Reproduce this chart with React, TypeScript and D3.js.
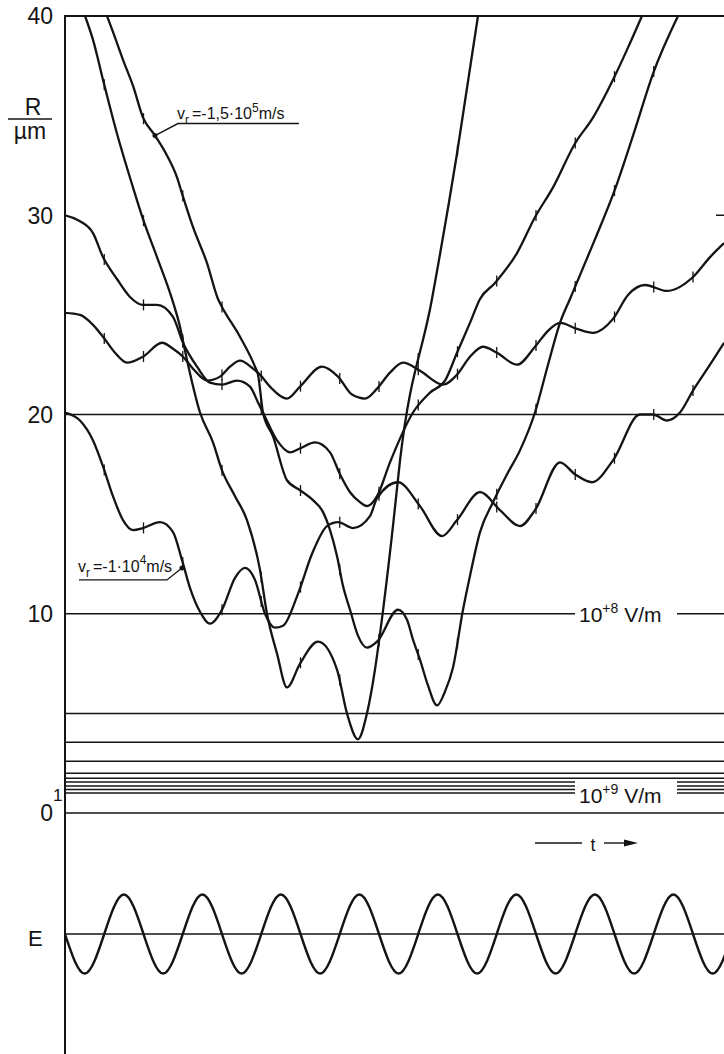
import React, { useRef, useEffect } from 'react';
import * as d3 from 'd3';

// t in field periods, R in µm
const rTickValues = [40, 30, 20, 10, 0];
const fieldLineR = [40, 20, 10, 5, 3.55, 2.6, 2.0, 1.75, 1.55, 1.35, 1.18, 1.0, 0];
const brokenLineR = [10, 1.55, 1.35, 1.18, 1.0];

// trajectories R(t)
const trackA = [
  [0.255, 40.0], [0.357, 38.8], [0.484, 36.8], [0.662, 34.1], [0.866, 31.4], [0.994, 29.8],
  [1.172, 27.9], [1.363, 25.8], [1.465, 24.4], [1.529, 23.2], [1.72, 20.1], [1.885, 18.6],
  [2.0, 17.2], [2.166, 15.9], [2.318, 14.7], [2.484, 12.2], [2.573, 10.0], [2.701, 8.0],
  [2.828, 6.3], [2.994, 7.5], [3.223, 8.6], [3.465, 7.2], [3.592, 5.0], [3.732, 3.7],
  [3.847, 5.0], [3.949, 7.2], [4.013, 9.0], [4.178, 14.4], [4.268, 17.7], [4.675, 25.8],
  [4.994, 33.1], [5.261, 40.0],
];
const trackB = [
  [0.535, 40.0], [0.611, 39.2], [0.739, 37.8], [0.866, 36.5], [0.994, 34.9], [1.146, 34.0],
  [1.299, 33.0], [1.427, 31.9], [1.49, 31.1], [1.631, 29.4], [1.809, 27.6], [1.949, 25.8],
  [2.0, 25.4], [2.229, 23.9], [2.42, 22.4], [2.459, 22.0], [2.522, 20.1], [2.65, 18.9],
  [2.828, 16.7], [2.994, 16.2], [3.159, 15.7], [3.287, 15.1], [3.376, 14.2], [3.465, 12.9],
  [3.541, 11.4], [3.631, 10.2], [3.732, 8.9], [3.847, 8.3], [3.975, 8.6], [4.242, 10.2],
  [4.357, 9.7], [4.433, 8.7], [4.522, 7.7], [4.624, 6.4], [4.739, 5.4], [4.841, 6.1],
  [4.943, 7.3], [5.07, 10.2], [5.159, 11.9], [5.287, 14.1], [5.452, 15.6], [5.631, 17.0],
  [5.796, 18.2], [5.987, 20.1], [6.153, 22.5], [6.306, 24.6], [6.433, 25.8], [6.497, 26.4],
  [6.752, 28.8], [7.006, 31.3], [7.261, 34.3], [7.49, 37.1], [7.809, 40.0],
];
const trackC = [
  [0, 30.0], [0.191, 29.7], [0.357, 29.1], [0.484, 27.9], [0.662, 26.8], [0.828, 25.9],
  [0.994, 25.5], [1.172, 25.5], [1.376, 24.9], [1.503, 23.6], [1.682, 22.4], [1.847, 21.6],
  [2.0, 21.5], [2.191, 21.7], [2.357, 21.4], [2.459, 20.6], [2.522, 20.1], [2.701, 18.7],
  [2.866, 18.1], [2.994, 18.3], [3.185, 18.6], [3.376, 18.1], [3.503, 17.0], [3.631, 16.1],
  [3.758, 15.6], [3.847, 15.4], [3.975, 15.9], [4.14, 17.6], [4.433, 20.1], [4.65, 21.1],
  [4.841, 21.7], [4.994, 23.1], [5.159, 24.6], [5.287, 25.8], [5.478, 26.6], [5.758, 28.1],
  [5.987, 29.9], [6.217, 31.4], [6.497, 33.6], [6.726, 34.9], [6.981, 36.8], [7.159, 38.3],
  [7.35, 40.0],
];
const trackD = [
  [0, 25.1], [0.191, 25.0], [0.357, 24.5], [0.484, 23.9], [0.637, 23.1], [0.79, 22.6],
  [0.994, 22.9], [1.236, 23.6], [1.376, 23.3], [1.503, 22.9], [1.631, 22.3], [1.809, 21.7],
  [1.975, 21.9], [2.102, 22.4], [2.229, 22.7], [2.395, 22.3], [2.484, 22.0], [2.611, 21.4],
  [2.828, 20.8], [2.994, 21.4], [3.274, 22.4], [3.478, 21.9], [3.656, 21.0], [3.822, 20.8],
  [3.975, 21.3], [4.14, 22.1], [4.306, 22.6], [4.522, 22.2], [4.815, 21.5], [4.994, 22.0],
  [5.159, 22.9], [5.325, 23.4], [5.503, 23.1], [5.758, 22.5], [5.987, 23.4], [6.153, 24.2],
  [6.306, 24.6], [6.522, 24.3], [6.726, 24.1], [6.981, 24.8], [7.172, 26.0], [7.389, 26.5],
  [7.669, 26.2], [8.0, 26.9], [8.217, 27.9], [8.395, 28.6],
];
const trackE = [
  [0, 20.1], [0.191, 19.7], [0.357, 18.7], [0.484, 17.4], [0.611, 15.9], [0.739, 14.7],
  [0.866, 14.2], [0.994, 14.3], [1.21, 14.6], [1.376, 14.1], [1.49, 12.7], [1.592, 11.3],
  [1.72, 10.1], [1.847, 9.5], [2.0, 10.2], [2.166, 11.8], [2.293, 12.3], [2.42, 11.7],
  [2.548, 10.0], [2.675, 9.3], [2.777, 9.4], [2.968, 11.0], [3.146, 13.0], [3.338, 14.4],
  [3.478, 14.6], [3.669, 14.3], [3.885, 14.9], [3.975, 15.8], [4.242, 16.6], [4.522, 15.4],
  [4.803, 13.9], [4.994, 14.7], [5.287, 16.1], [5.541, 15.2], [5.796, 14.4], [5.987, 15.2],
  [6.306, 17.6], [6.497, 17.0], [6.713, 16.6], [6.981, 17.7], [7.325, 20.0], [7.49, 20.0],
  [7.669, 19.7], [7.834, 20.1], [8.0, 21.2], [8.217, 22.5], [8.395, 23.6],
];
const tracks = [trackA, trackB, trackC, trackD, trackE];

// field E(t), sampled every quarter period
const eStep = 0.25;
const eValues = [
  0, -1, 0, 1, 0, -1, 0, 1, 0, -1, 0, 1, 0, -1, 0, 1, 0, -1, 0, 1,
  0, -1, 0, 1, 0, -1, 0, 1, 0, -1, 0, 1, 0, -1, 0,
];

// labelled points on trajectories
const labelFast = { t: 1.146, r: 34.0 };
const labelSlow = { t: 1.49, r: 12.3 };

const App = () => {
  const svgRef = useRef(null);

  useEffect(() => {
    const width = 724;
    const height = 1054;
    const ink = '#141414';
    const font = "'Liberation Sans', Arial, sans-serif";

    const svg = d3.select(svgRef.current);
    svg.selectAll('*').remove();
    svg.attr('width', width).attr('height', height);

    const x = d3.scaleLinear().domain([0, 8.395]).range([65, 724]);
    const y = d3.scaleLinear().domain([0, 40]).range([813, 16]);
    const e = d3.scaleLinear().domain([-1, 1]).range([973.5, 894.5]);

    svg.append('rect').attr('width', width).attr('height', height).attr('fill', '#fff');

    svg
      .append('defs')
      .append('clipPath')
      .attr('id', 'plot-clip')
      .append('rect')
      .attr('x', 65)
      .attr('y', 15)
      .attr('width', width - 65)
      .attr('height', 800);

    // horizontal field lines (gaps where the labels sit)
    const gapL = 575;
    const gapR = 677;
    fieldLineR.forEach((r) => {
      const yy = y(r);
      const segs = brokenLineR.includes(r)
        ? [[65, gapL], [gapR, width]]
        : [[65, width]];
      segs.forEach(([a, b]) => {
        svg
          .append('line')
          .attr('x1', a)
          .attr('x2', b)
          .attr('y1', yy)
          .attr('y2', yy)
          .attr('stroke', ink)
          .attr('stroke-width', r === 40 ? 2 : 1.5);
      });
    });

    // small mark at the right edge
    svg
      .append('line')
      .attr('x1', 716)
      .attr('x2', width)
      .attr('y1', y(30))
      .attr('y2', y(30))
      .attr('stroke', ink)
      .attr('stroke-width', 1.5);

    // vertical axis
    svg
      .append('line')
      .attr('x1', 65)
      .attr('x2', 65)
      .attr('y1', 15)
      .attr('y2', height)
      .attr('stroke', ink)
      .attr('stroke-width', 2);

    // tick labels
    rTickValues.forEach((v) => {
      svg
        .append('text')
        .attr('x', 53)
        .attr('y', y(v))
        .attr('dy', '0.36em')
        .attr('text-anchor', 'end')
        .attr('font-family', font)
        .attr('font-size', 23)
        .attr('fill', ink)
        .text(v);
    });
    svg
      .append('text')
      .attr('x', 53)
      .attr('y', y(1))
      .attr('dy', '0.45em')
      .attr('font-family', font)
      .attr('font-size', 17)
      .attr('fill', ink)
      .text('1');

    // R / µm
    svg
      .append('text')
      .attr('x', 33)
      .attr('y', 115)
      .attr('text-anchor', 'middle')
      .attr('font-family', font)
      .attr('font-size', 23)
      .attr('fill', ink)
      .text('R');
    svg
      .append('line')
      .attr('x1', 8)
      .attr('x2', 52)
      .attr('y1', 119)
      .attr('y2', 119)
      .attr('stroke', ink)
      .attr('stroke-width', 1.5);
    svg
      .append('text')
      .attr('x', 30)
      .attr('y', 139)
      .attr('text-anchor', 'middle')
      .attr('font-family', font)
      .attr('font-size', 23)
      .attr('fill', ink)
      .text('µm');

    // trajectories
    const line = d3
      .line()
      .x((d) => x(d[0]))
      .y((d) => y(d[1]))
      .curve(d3.curveMonotoneX);

    const g = svg.append('g').attr('clip-path', 'url(#plot-clip)');

    tracks.forEach((tr) => {
      const path = g
        .append('path')
        .datum(tr)
        .attr('fill', 'none')
        .attr('stroke', ink)
        .attr('stroke-width', 2.3)
        .attr('stroke-linejoin', 'round')
        .attr('d', line);

      // half-period marks along the trajectory
      const node = path.node();
      const total = node.getTotalLength();
      const t0 = tr[0][0];
      const t1 = tr[tr.length - 1][0];
      for (let k = 1; k * 0.5 < t1; k++) {
        const tk = k * 0.5;
        if (tk <= t0) continue;
        const px = x(tk);
        let lo = 0;
        let hi = total;
        for (let i = 0; i < 30; i++) {
          const mid = (lo + hi) / 2;
          if (node.getPointAtLength(mid).x < px) lo = mid;
          else hi = mid;
        }
        const p = node.getPointAtLength((lo + hi) / 2);
        if (p.y < 22) continue;
        g.append('line')
          .attr('x1', p.x)
          .attr('x2', p.x)
          .attr('y1', p.y - 5.5)
          .attr('y2', p.y + 5.5)
          .attr('stroke', ink)
          .attr('stroke-width', 1.3);
      }
    });

    // velocity labels
    const fx = x(labelFast.t);
    const fy = y(labelFast.r);
    svg.append('circle').attr('cx', fx).attr('cy', fy).attr('r', 2.5).attr('fill', ink);
    svg
      .append('polyline')
      .attr('points', `${fx},${fy} ${fx + 23},${fy - 12} ${fx + 144},${fy - 12}`)
      .attr('fill', 'none')
      .attr('stroke', ink)
      .attr('stroke-width', 1.4);
    const tf = svg
      .append('text')
      .attr('x', fx + 22)
      .attr('y', fy - 17)
      .attr('font-family', font)
      .attr('font-size', 16)
      .attr('fill', ink);
    tf.append('tspan').text('v');
    tf.append('tspan').attr('font-size', 12).attr('dy', 5).text('r');
    tf.append('tspan').attr('dy', -5).attr('dx', 3).text('=-1,5·10');
    tf.append('tspan').attr('font-size', 12).attr('dy', -7).text('5');
    tf.append('tspan').attr('dy', 7).text('m/s');

    const sx = x(labelSlow.t);
    const sy = y(labelSlow.r);
    svg.append('circle').attr('cx', sx).attr('cy', sy).attr('r', 2.5).attr('fill', ink);
    svg
      .append('polyline')
      .attr('points', `${sx},${sy} ${sx - 15},${sy + 12} ${sx - 103},${sy + 12}`)
      .attr('fill', 'none')
      .attr('stroke', ink)
      .attr('stroke-width', 1.4);
    const ts = svg
      .append('text')
      .attr('x', sx - 104)
      .attr('y', sy + 4)
      .attr('font-family', font)
      .attr('font-size', 16)
      .attr('fill', ink);
    ts.append('tspan').text('v');
    ts.append('tspan').attr('font-size', 12).attr('dy', 5).text('r');
    ts.append('tspan').attr('dy', -5).attr('dx', 3).text('=-1·10');
    ts.append('tspan').attr('font-size', 12).attr('dy', -8).text('4');
    ts.append('tspan').attr('dy', 8).text('m/s');

    // field strength labels
    const fieldLabel = (yy, exp) => {
      const tx = svg
        .append('text')
        .attr('x', 579)
        .attr('y', yy)
        .attr('font-family', font)
        .attr('font-size', 21)
        .attr('fill', ink);
      tx.append('tspan').text('10');
      tx.append('tspan').attr('font-size', 14).attr('dy', -9).text(exp);
      tx.append('tspan').attr('dy', 9).text(' V/m');
    };
    fieldLabel(y(10) + 8, '+8');
    fieldLabel(y(1.3) + 16, '+9');

    // t arrow
    const ay = 843;
    svg.append('line').attr('x1', 535).attr('x2', 582).attr('y1', ay).attr('y2', ay)
      .attr('stroke', ink).attr('stroke-width', 1.4);
    svg.append('text').attr('x', 593).attr('y', ay + 8).attr('text-anchor', 'middle')
      .attr('font-family', font).attr('font-size', 18).attr('fill', ink).text('t');
    svg.append('line').attr('x1', 604).attr('x2', 626).attr('y1', ay).attr('y2', ay)
      .attr('stroke', ink).attr('stroke-width', 1.4);
    svg.append('path').attr('d', `M624,${ay - 3.5}L638,${ay}L624,${ay + 3.5}Z`).attr('fill', ink);

    // E(t)
    svg
      .append('line')
      .attr('x1', 65)
      .attr('x2', width)
      .attr('y1', e(0))
      .attr('y2', e(0))
      .attr('stroke', ink)
      .attr('stroke-width', 1.5);
    svg
      .append('text')
      .attr('x', 28)
      .attr('y', e(0) + 12)
      .attr('font-family', font)
      .attr('font-size', 22)
      .attr('fill', ink)
      .text('E');

    const eLine = d3
      .line()
      .x((d, i) => x(i * eStep))
      .y((d) => e(d))
      .curve(d3.curveNatural);
    svg
      .append('path')
      .datum(eValues)
      .attr('fill', 'none')
      .attr('stroke', ink)
      .attr('stroke-width', 2.4)
      .attr('d', eLine);
  }, []);

  return (
    <svg
      ref={svgRef}
      style={{ position: 'absolute', left: 0, top: 0, display: 'block' }}
    ></svg>
  );
};

export default App;
